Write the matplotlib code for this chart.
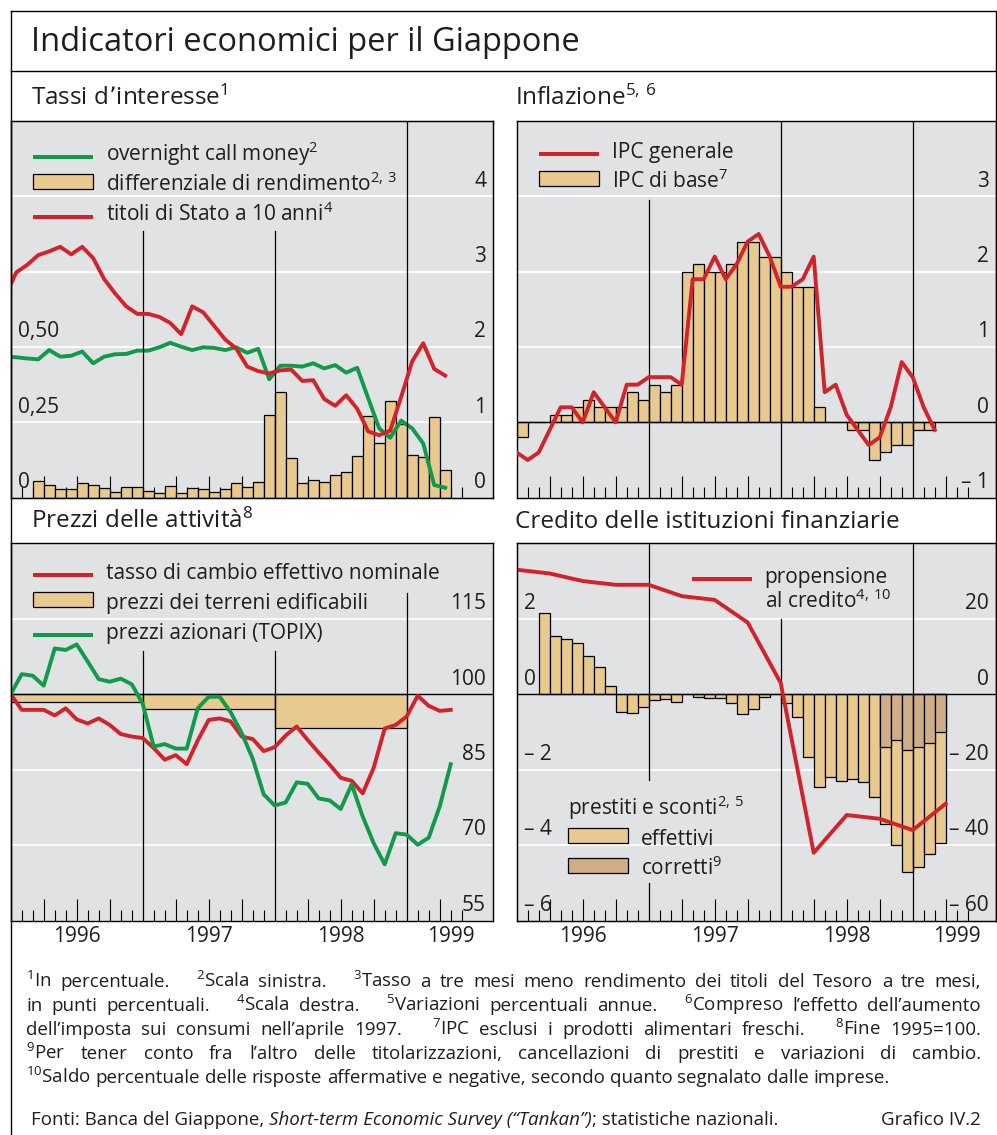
"""Indicatori economici per il Giappone (Grafico IV.2)."""

import matplotlib

matplotlib.use("Agg")
import matplotlib.pyplot as plt
import numpy as np
from matplotlib.legend_handler import HandlerPatch
from matplotlib.lines import Line2D
from matplotlib.patches import Patch, Rectangle

# ---------------------------------------------------------------- data
# x positions are months counted from 1 January 1996 (0 = start of 1996)

# Tassi d'interesse: monthly, plotted mid-month, Dec 1995 - Apr 1999
rates_start = -0.5
call_money = [0.468, 0.466, 0.462, 0.459, 0.490, 0.468, 0.471, 0.485, 0.446, 0.468,
              0.476, 0.477, 0.488, 0.488, 0.499, 0.514, 0.501, 0.490, 0.499, 0.497,
              0.490, 0.499, 0.481, 0.494, 0.393, 0.438, 0.438, 0.435, 0.446, 0.429,
              0.440, 0.415, 0.431, 0.330, 0.230, 0.199, 0.256, 0.230, 0.180, 0.042,
              0.033]
bond_10y = [2.67, 2.99, 3.09, 3.22, 3.27, 3.33, 3.23, 3.33, 3.18, 2.90,
            2.71, 2.54, 2.44, 2.44, 2.40, 2.32, 2.17, 2.54, 2.46, 2.28,
            2.10, 1.98, 1.74, 1.68, 1.65, 1.69, 1.70, 1.55, 1.56, 1.31,
            1.22, 1.36, 1.18, 0.88, 0.83, 0.89, 1.34, 1.81, 2.05, 1.71,
            1.62]
# differenziale di rendimento, Mar 1996 - Apr 1999
spread_start = 2.5
yield_spread = [0.055, 0.043, 0.030, 0.029, 0.050, 0.043, 0.032, 0.020, 0.036, 0.035,
                0.022, 0.017, 0.040, 0.014, 0.032, 0.029, 0.018, 0.030, 0.048, 0.035,
                0.052, 0.274, 0.350, 0.132, 0.049, 0.059, 0.051, 0.074, 0.086, 0.140,
                0.271, 0.180, 0.320, 0.245, 0.143, 0.134, 0.267, 0.091]

# Inflazione
cpi_start = 0.0
cpi_all = [-0.4, -0.5, -0.4, -0.1, 0.2, 0.2, 0.0, 0.4, 0.2, 0.0,
           0.5, 0.5, 0.6, 0.6, 0.6, 0.5, 1.9, 1.9, 2.2, 1.9,
           2.1, 2.4, 2.5, 2.2, 1.8, 1.8, 1.9, 2.2, 0.4, 0.5,
           0.1, -0.1, -0.3, -0.2, 0.2, 0.8, 0.6, 0.2, -0.1]
core_start = 0.5
cpi_core = [-0.2, 0.0, 0.0, 0.1, 0.1, 0.2, 0.3, 0.2, 0.2, 0.2,
            0.4, 0.3, 0.5, 0.4, 0.5, 2.0, 2.1, 2.0, 2.0, 2.1,
            2.4, 2.4, 2.2, 2.2, 2.0, 1.8, 1.8, 0.2, 0.0, 0.0,
            -0.1, -0.1, -0.5, -0.4, -0.3, -0.3, -0.1, -0.1]

# Prezzi delle attività (fine 1995 = 100), end-of-month points
asset_start = 0.0
exchange_rate = [100.0, 96.9, 96.9, 96.9, 95.8, 97.2, 95.0, 94.2, 95.2, 93.9,
                 92.1, 91.6, 91.3, 89.3, 87.0, 87.9, 86.1, 90.8, 94.9, 95.2,
                 94.6, 91.6, 91.1, 88.7, 89.5, 91.8, 93.6, 90.9, 88.4, 86.0,
                 83.4, 82.8, 80.3, 85.4, 93.2, 93.9, 95.6, 99.7, 97.7, 96.7,
                 96.9]
topix = [100.0, 104.0, 103.7, 101.7, 109.1, 108.8, 109.9, 106.5, 103.0, 102.5,
         103.1, 102.0, 98.1, 89.6, 90.1, 89.2, 89.2, 97.2, 99.5, 99.5,
         96.4, 92.3, 87.2, 80.1, 77.9, 78.5, 82.5, 82.2, 79.3, 78.9,
         77.2, 82.1, 75.7, 70.4, 66.2, 72.4, 72.1, 70.1, 71.5, 77.7,
         86.1]
land_years = [1996, 1997, 1998]
land_prices = [98.4, 97.0, 93.3]

# Credito delle istituzioni finanziarie
loans_start = 2.5
loans_actual = [2.16, 1.55, 1.46, 1.37, 1.02, 0.73, 0.23, -0.47, -0.50, -0.35,
                -0.15, -0.12, -0.20, 0.0, -0.08, -0.11, -0.11, -0.22, -0.51, -0.40,
                -0.07, 0.02, -0.22, -0.59, -1.65, -2.47, -2.20, -2.29, -2.24, -2.32,
                -2.73, -3.43, -4.00, -4.72, -4.59, -4.24, -3.93]
adjusted_start = 33.5
loans_adjusted = [-1.40, -1.20, -1.49, -1.40, -1.30, -1.00]
tankan_start = 0.0
lending_attitude = [33, 32, 30, 29, 29, 26, 25, 19, 3, -42, -32, -33, -36, -29]

year_labels = ["1996", "1997", "1998", "1999"]
year_label_months = [6, 18, 30, 40]

footnotes = [
    ["$^{1}$In percentuale.", "$^{2}$Scala sinistra.",
     "$^{3}$Tasso a tre mesi meno rendimento dei titoli del Tesoro a tre mesi,"],
    ["in punti percentuali.", "$^{4}$Scala destra.", "$^{5}$Variazioni percentuali annue.",
     "$^{6}$Compreso l\u2019effetto dell\u2019aumento"],
    ["dell\u2019imposta sui consumi nell\u2019aprile 1997.",
     "$^{7}$IPC esclusi i prodotti alimentari freschi.", "$^{8}$Fine 1995=100."],
    ["$^{9}$Per tener conto fra l\u2019altro delle titolarizzazioni, cancellazioni di "
     "prestiti e variazioni di cambio."],
    ["$^{10}$Saldo percentuale delle risposte affermative e negative, secondo quanto "
     "segnalato dalle imprese."],
]

# ---------------------------------------------------------------- style
W, H = 997, 1135
PX_PER_MONTH = 11.0
BG = "#e1e2e4"
RED = "#d2232a"
GREEN = "#109a4a"
TAN = "#e8c98f"
TAN_DARK = "#cfad86"
INK = "#1e1e1e"
LW = 2.8
FS = 15
NOTE_FS = 13.5

plt.rcParams["font.family"] = ["Open Sans", "DejaVu Sans"]
plt.rcParams["mathtext.default"] = "regular"
plt.rcParams["text.color"] = INK

fig = plt.figure(figsize=(W / 100, H / 100), dpi=100)


def months(start, n, step=1):
    return start + step * np.arange(n)


def panel(left, top, right, bottom):
    ax = fig.add_axes([left / W, 1 - bottom / H, (right - left) / W, (bottom - top) / H])
    ax.set_facecolor(BG)
    ax.set_axisbelow(True)
    ax.set_xlim(0, (right - left) / PX_PER_MONTH)
    for spine in ax.spines.values():
        spine.set_linewidth(1.0)
    ax.set_xticks([m for m in range(3, 42, 3) if m % 12])
    ax.set_xticks([m for m in range(1, 42) if m % 3], minor=True)
    ax.tick_params(axis="x", which="major", direction="in", length=16, width=0.8,
                   labelbottom=False)
    ax.tick_params(axis="x", which="minor", direction="in", length=8, width=0.8)
    ax.tick_params(axis="y", length=0, labelleft=False, labelright=False)
    ax.yaxis.grid(True, color="white", lw=1.3)
    return ax


def year_lines(ax, spans):
    for m, segs in zip([12, 24, 36], spans):
        for lo, hi in segs:
            ax.axvline(m, lo, hi, color="black", lw=0.9, zorder=2.2)


def scale_labels(ax, values, texts, side):
    for v, t in zip(values, texts):
        if side == "right":
            ax.annotate(t, xy=(1, v), xycoords=("axes fraction", "data"), xytext=(-5, 7),
                        textcoords="offset points", ha="right", va="baseline",
                        fontsize=FS, annotation_clip=False)
        else:
            ax.annotate(t, xy=(0, v), xycoords=("axes fraction", "data"), xytext=(5, 7),
                        textcoords="offset points", ha="left", va="baseline",
                        fontsize=FS, annotation_clip=False)


# legend keys: a box sitting on the text baseline (points above baseline)
def key_handler(bottom, top):
    def make(legend, orig_handle, xdescent, ydescent, width, height, fontsize):
        return Rectangle((-xdescent, bottom), width, top - bottom)
    return HandlerPatch(patch_func=make)


def bar_key(color):
    return Patch(facecolor=color, edgecolor="black", lw=0.9)


def line_key(color):
    return Patch(facecolor=color, edgecolor="none")


BAR_KEY = key_handler(1.4, 12.2)
LINE_KEY = key_handler(1.5, 4.4)


def legend(ax, handles, labels, anchor, loc="upper left", **kw):
    hmap = {h: (LINE_KEY if h.get_edgecolor()[3] == 0 else BAR_KEY) for h in handles}
    return ax.legend(handles, labels, loc=loc, bbox_to_anchor=anchor, frameon=False,
                     fontsize=FS, handlelength=2.9, handletextpad=0.6, handleheight=1.6,
                     labelspacing=0.155, borderpad=0, borderaxespad=0, handler_map=hmap,
                     **kw)


def year_axis_labels(ax):
    for lbl, m in zip(year_labels, year_label_months):
        ax.annotate(lbl, xy=(m, 0), xycoords=("data", "axes fraction"), xytext=(0, -4),
                    textcoords="offset points", ha="center", va="top", fontsize=FS)


# ---------------------------------------------------------------- Tassi d'interesse
ax = panel(10.7, 121, 493, 497.7)
ax.set_ylim(0, 1.25)
ax.set_yticks([0.25, 0.5, 0.75, 1.0])
ax.bar(months(spread_start, len(yield_spread)), yield_spread, width=1.0, color=TAN,
       edgecolor="black", lw=0.9)
ax.plot(months(rates_start, len(call_money)), call_money, color=GREEN, lw=LW)
year_lines(ax, [[(0, 0.709)], [(0, 0.709)], [(0, 1)]])
ax2 = ax.twinx()
ax2.set_ylim(0, 5)
ax2.set_yticks([])
ax2.plot(months(rates_start, len(bond_10y)), bond_10y, color=RED, lw=LW)
scale_labels(ax, [0, 0.25, 0.5], ["0", "0,25", "0,50"], "left")
scale_labels(ax2, [0, 1, 2, 3, 4], ["0", "1", "2", "3", "4"], "right")
legend(ax2, [line_key(GREEN), bar_key(TAN), line_key(RED)],
       ["overnight call money$^{2}$", "differenziale di rendimento$^{2,\\,3}$",
        "titoli di Stato a 10 anni$^{4}$"], (0.046, 0.952))

# ---------------------------------------------------------------- Inflazione
ax = panel(516.7, 121, 996, 497.7)
ax.set_ylim(-1, 4)
ax.set_yticks([1, 2, 3])
ax.bar(months(core_start, len(cpi_core)), cpi_core, width=1.0, color=TAN,
       edgecolor="black", lw=0.9)
ax.axhline(0, color="black", lw=1.0, zorder=1.8)
year_lines(ax, [[(0, 0.79)], [(0, 1)], [(0, 1)]])
ax.plot(months(cpi_start, len(cpi_all)), cpi_all, color=RED, lw=LW, zorder=3)
scale_labels(ax, [-1, 0, 1, 2, 3], ["\u2013 1", "0", "1", "2", "3"], "right")
legend(ax, [line_key(RED), bar_key(TAN)],
       ["IPC generale", "IPC di base$^{7}$"], (0.046, 0.955))

# ---------------------------------------------------------------- Prezzi delle attività
ax = panel(10.7, 543.3, 493, 920.7)
ax.set_ylim(55, 130)
ax.set_yticks([70, 85, 115])
land_x = [(y - 1996) * 12 + 6 for y in land_years]
ax.bar(land_x, np.array(land_prices) - 100, bottom=100, width=12, color=TAN,
       edgecolor="black", lw=0.9)
ax.axhline(100, color="black", lw=1.0, zorder=1.8)
year_lines(ax, [[(0, 0.715)], [(0, 0.715)], [(0, 0.867)]])
ax.plot(months(asset_start, len(exchange_rate)), exchange_rate, color=RED, lw=LW, zorder=3)
ax.plot(months(asset_start, len(topix)), topix, color=GREEN, lw=LW, zorder=3)
scale_labels(ax, [55, 70, 85, 100, 115], ["55", "70", "85", "100", "115"], "right")
legend(ax, [line_key(RED), bar_key(TAN), line_key(GREEN)],
       ["tasso di cambio effettivo nominale", "prezzi dei terreni edificabili",
        "prezzi azionari (TOPIX)"], (0.046, 0.958))
year_axis_labels(ax)

# ---------------------------------------------------------------- Credito
ax = panel(516.7, 543.3, 996, 920.7)
ax.set_ylim(-6, 4)
ax.set_yticks([-4, -2, 2])
ax.bar(months(loans_start, len(loans_actual)), loans_actual, width=1.0, color=TAN,
       edgecolor="black", lw=0.9)
ax.bar(months(adjusted_start, len(loans_adjusted)), loans_adjusted, width=1.0,
       color=TAN_DARK, edgecolor="black", lw=0.9)
ax.axhline(0, color="black", lw=1.0, zorder=1.8)
year_lines(ax, [[(0, 0.1), (0.373, 1)], [(0, 0.799)], [(0, 1)]])
ax2 = ax.twinx()
ax2.set_ylim(-60, 40)
ax2.set_yticks([])
ax2.plot(months(tankan_start, len(lending_attitude), 3), lending_attitude, color=RED, lw=LW)
scale_labels(ax, [-6, -4, -2, 0, 2], ["\u2013 6", "\u2013 4", "\u2013 2", "0", "2"], "left")
scale_labels(ax2, [-60, -40, -20, 0, 20], ["\u2013 60", "\u2013 40", "\u2013 20", "0", "20"],
             "right")
leg = legend(ax2, [line_key(RED)], ["propensione"], (0.365, 0.949))
ax2.annotate("al credito$^{4,\\,10}$", xy=(0, 0), xycoords=leg.get_texts()[0],
             xytext=(0, -14.8), textcoords="offset points", ha="left", va="baseline",
             fontsize=FS, zorder=6)
legend(ax, [bar_key(TAN), bar_key(TAN_DARK)], ["effettivi", "corretti$^{9}$"],
       (0.107, 0.103), loc="lower left", title="prestiti e sconti$^{2,\\,5}$",
       title_fontsize=FS, alignment="left")
year_axis_labels(ax)

# ---------------------------------------------------------------- frame and texts
for xs, ys in [((10.7, 10.7), (10.7, H)), ((10.7, W), (10.7, 10.7)),
               ((10.7, W), (70.7, 70.7)), ((996.3, 996.3), (10.7, 920.7))]:
    fig.add_artist(Line2D([x / W for x in xs], [1 - y / H for y in ys], color="black", lw=1.0))

fig.text(30.7 / W, 1 - 51 / H, "Indicatori economici per il Giappone", fontsize=23.5,
         va="baseline")
for x, y, t in [(30.7, 105, "Tassi d\u2019interesse$^{1}$"), (515, 105, "Inflazione$^{5,\\,6}$"),
                (30.7, 528, "Prezzi delle attivit\u00e0$^{8}$"),
                (515, 528, "Credito delle istituzioni finanziarie")]:
    fig.text(x / W, 1 - y / H, t, fontsize=17.5, va="baseline")

renderer = fig.canvas.get_renderer()
X0, X1 = 26.0, 981.0


def measure(t):
    return t.get_window_extent(renderer).width


def place_words(words, weights, y, justify):
    arts = [fig.text(0, 1 - y / H, w, fontsize=NOTE_FS, va="baseline") for w in words]
    widths = [measure(a) for a in arts]
    probe = fig.text(0, 0, "a a", fontsize=NOTE_FS)
    probe_a = fig.text(0, 0, "aa", fontsize=NOTE_FS)
    space = measure(probe) - measure(probe_a)
    probe.remove()
    probe_a.remove()
    gap = (X1 - X0 - sum(widths)) / sum(weights[1:]) if justify else space
    x = X0
    for a, w, wt in zip(arts, widths, [0] + weights[1:]):
        x += gap * wt
        a.set_x(x / W)
        x += w


for i, groups in enumerate(footnotes):
    words, weights = [], []
    for g in groups:
        for j, w in enumerate(g.split(" ")):
            weights.append(3 if j == 0 else 1)
            words.append(w)
    place_words(words, weights, 987 + 24 * i, justify=i < 4)

x = 31.0
for text, style in [("Fonti: Banca del Giappone, ", "normal"),
                    ("Short-term Economic Survey (\u201cTankan\u201d)", "italic"),
                    ("; statistiche nazionali.", "normal")]:
    t = fig.text(x / W, 1 - 1125 / H, text, fontsize=NOTE_FS, style=style, va="baseline")
    x += measure(t)
fig.text(X1 / W, 1 - 1125 / H, "Grafico IV.2", fontsize=NOTE_FS, ha="right", va="baseline")

fig.savefig("out.png", dpi=100)
